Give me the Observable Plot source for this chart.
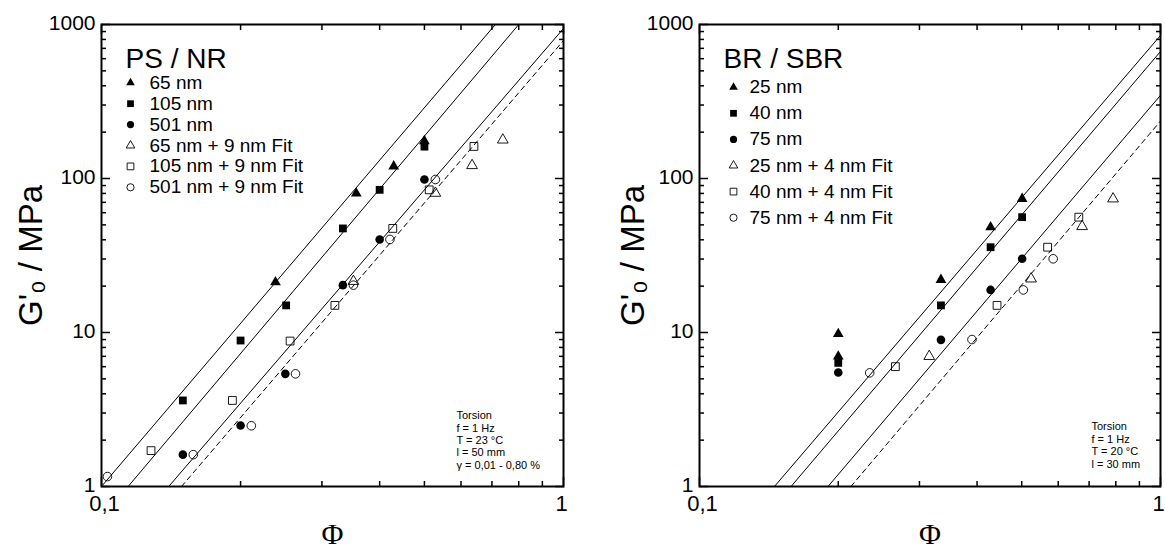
<!DOCTYPE html>
<html>
<head>
<meta charset="utf-8">
<script src="https://cdn.jsdelivr.net/npm/d3@7"></script>
<script src="https://cdn.jsdelivr.net/npm/@observablehq/plot@0.6"></script>
<style>
  body { margin: 0; background: #fff; }
  #wrap { display: flex; width: 1165px; height: 550px; background: #fff; }
  #wrap svg { display: block; }
</style>
</head>
<body>
<div id="wrap"></div>
<script>
// ---------- shared axis ticks ----------
const xMajor = [0.1, 1];
const xTickLabels = ["0,1", "1"];
const xMinor = [0.2, 0.3, 0.4, 0.5, 0.6, 0.7, 0.8, 0.9];
const yMajor = [1, 10, 100, 1000];
const yTickLabels = ["1", "10", "100", "1000"];
const yMinor = [2, 3, 4, 5, 6, 7, 8, 9, 20, 30, 40, 50, 60, 70, 80, 90, 200, 300, 400, 500, 600, 700, 800, 900];
const xLabel = "Φ";
const yLabel = "G'₀ / MPa";

// ---------- left panel: PS / NR ----------
const psTitle = "PS / NR";
const psNames = ["65 nm", "105 nm", "501 nm", "65 nm + 9 nm Fit", "105 nm + 9 nm Fit", "501 nm + 9 nm Fit"];
const psSymbols = ["triangle", "square", "circle", "triangle", "square", "circle"];
const psFilled = [true, true, true, false, false, false];
const psPhi65 = [0.238, 0.356, 0.429, 0.50];
const psG65 = [21.2, 80, 120, 175];
const psPhi105 = [0.15, 0.20, 0.251, 0.333, 0.40, 0.50];
const psG105 = [3.62, 8.87, 15.0, 47.4, 84.4, 161];
const psPhi501 = [0.15, 0.20, 0.25, 0.333, 0.40, 0.50];
const psG501 = [1.61, 2.49, 5.39, 20.3, 40.2, 98.5];
const psPhi65f = [0.351, 0.528, 0.634, 0.739];
const psG65f = [21.5, 80.3, 121.5, 178];
const psPhi105f = [0.128, 0.192, 0.256, 0.320, 0.427, 0.512, 0.640];
const psG105f = [1.71, 3.62, 8.8, 15.0, 47.4, 84.4, 161.5];
const psPhi501f = [0.103, 0.158, 0.211, 0.263, 0.351, 0.421, 0.528];
const psG501f = [1.16, 1.61, 2.48, 5.39, 20.3, 40.2, 98.5];
const psFitPhi = [[0.1, 0.712], [0.1142, 0.800], [0.1398, 1], [0.149, 1]];
const psFitG = [[1, 1000], [1, 1000], [1, 942], [1, 787]];
const psFitDashed = [false, false, false, true];
const psNote = ["Torsion", "f = 1 Hz", "T = 23 °C", "l = 50 mm", "γ = 0,01 - 0,80 %"];

// ---------- right panel: BR / SBR ----------
const brTitle = "BR / SBR";
const brNames = ["25 nm", "40 nm", "75 nm", "25 nm + 4 nm Fit", "40 nm + 4 nm Fit", "75 nm + 4 nm Fit"];
const brSymbols = ["triangle", "square", "circle", "triangle", "square", "circle"];
const brFilled = [true, true, true, false, false, false];
const brPhi25 = [0.2, 0.2, 0.334, 0.428, 0.501];
const brG25 = [9.8, 7.0, 22, 48.3, 73.8];
const brPhi40 = [0.2, 0.334, 0.428, 0.501];
const brG40 = [6.35, 15, 35.8, 56.1];
const brPhi75 = [0.2, 0.334, 0.428, 0.501];
const brG75 = [5.5, 8.96, 18.9, 30.1];
const brPhi25f = [0.315, 0.524, 0.676, 0.789];
const brG25f = [7.0, 22.3, 48.8, 73.8];
const brPhi40f = [0.266, 0.442, 0.569, 0.665];
const brG40f = [6.0, 15, 35.8, 56.1];
const brPhi75f = [0.234, 0.390, 0.504, 0.585];
const brG75f = [5.47, 9.0, 18.9, 30.1];
const brFitPhi = [[0.1454, 1], [0.158, 1], [0.190, 1], [0.213, 1]];
const brFitG = [[1, 849], [1, 668], [1, 347], [1, 236]];
const brFitDashed = [false, false, false, true];
const brNote = ["Torsion", "f = 1 Hz", "T = 20 °C", "l = 30 mm"];

const FONT = "'Liberation Sans', Arial, Helvetica, sans-serif";
const R = {triangle: 4, square: 4.4, circle: 4.3};
const RL = {triangle: 3.2, square: 3.8, circle: 3.6};

function panel(cfg) {
  const pts = cfg.names.flatMap((name, i) =>
    cfg.phi[i].map((p, j) => ({series: i, phi: p, g: cfg.g[i][j]})));
  const fits = cfg.fitPhi.flatMap((ph, i) =>
    ph.map((p, j) => ({fit: i, phi: p, g: cfg.fitG[i][j], dashed: cfg.fitDashed[i]})));

  const marks = [];
  marks.push(Plot.line(fits.filter(d => !d.dashed), {x: "phi", y: "g", z: "fit", stroke: "black", strokeWidth: 1, clip: true}));
  marks.push(Plot.line(fits.filter(d => d.dashed), {x: "phi", y: "g", z: "fit", stroke: "black", strokeWidth: 1, strokeDasharray: "5,4", clip: true}));

  cfg.names.forEach((name, i) => {
    const filled = cfg.filled[i];
    const sym = cfg.symbols[i];
    marks.push(Plot.dot(pts.filter(d => d.series === i), {
      x: "phi", y: "g", symbol: sym, r: R[sym],
      fill: filled ? "black" : "none", stroke: filled ? "none" : "black", strokeWidth: 0.9
    }));
    // legend entry
    marks.push(Plot.dot([name], {
      frameAnchor: "top-left", dx: cfg.legDx, dy: cfg.legDy + i * cfg.legSp,
      symbol: sym, r: RL[sym],
      fill: filled ? "black" : "none", stroke: filled ? "none" : "black", strokeWidth: 0.9
    }));
    marks.push(Plot.text([name], {
      frameAnchor: "top-left", dx: cfg.legTx, dy: cfg.legDy + i * cfg.legSp,
      text: d => d, textAnchor: "start", lineAnchor: "middle", fontSize: 19, fill: "black"
    }));
  });

  // title
  marks.push(Plot.text([cfg.title], {
    frameAnchor: "top-left", dx: cfg.titleDx, dy: cfg.titleDy, text: d => d,
    textAnchor: "start", lineAnchor: "bottom", fontSize: 28, fill: "black"
  }));
  // note
  marks.push(Plot.text([cfg.note.join("\n")], {
    frameAnchor: "top-left", dx: cfg.noteDx, dy: cfg.noteDy, text: d => d,
    textAnchor: "start", lineAnchor: "top", fontSize: 11, lineHeight: cfg.noteLH, fill: "black"
  }));

  // axis ticks (inward, all four sides)
  for (const anchor of ["bottom", "top"]) {
    marks.push(Plot.axisX({ticks: xMajor, anchor, tickSize: -9, fill: "none", label: null, strokeWidth: 1.5}));
    marks.push(Plot.axisX({ticks: xMinor, anchor, tickSize: -5, fill: "none", label: null, strokeWidth: 1.5}));
  }
  for (const anchor of ["left", "right"]) {
    marks.push(Plot.axisY({ticks: yMajor, anchor, tickSize: -9, fill: "none", label: null, strokeWidth: 1.5}));
    marks.push(Plot.axisY({ticks: yMinor, anchor, tickSize: -5, fill: "none", label: null, strokeWidth: 1.5}));
  }
  // tick labels
  marks.push(Plot.axisX({ticks: xMajor.slice(0, 1), anchor: "bottom", tickSize: 0, tickPadding: 9, fontSize: 22, dx: 3, label: null,
    tickFormat: d => xTickLabels[xMajor.indexOf(d)]}));
  marks.push(Plot.axisX({ticks: xMajor.slice(1), anchor: "bottom", tickSize: 0, tickPadding: 9, fontSize: 22, dx: -2, label: null,
    tickFormat: d => xTickLabels[xMajor.indexOf(d)]}));
  marks.push(Plot.axisY({ticks: yMajor, anchor: "left", tickSize: 0, tickPadding: 6, fontSize: 21, dy: -1.5, label: null,
    tickFormat: d => yTickLabels[yMajor.indexOf(d)]}));

  // axis titles
  marks.push(Plot.text([xLabel], {
    frameAnchor: "bottom", dy: 48, text: d => d, textAnchor: "middle", lineAnchor: "middle",
    fontSize: 30, fontFamily: "'Liberation Serif', 'Times New Roman', serif", fill: "black"
  }));
  marks.push(Plot.text([yLabel], {
    frameAnchor: "left", dx: cfg.yLabDx, text: d => d, rotate: -90, textAnchor: "middle", lineAnchor: "middle",
    fontSize: 33, fill: "black"
  }));

  marks.push(Plot.frame({stroke: "black", strokeWidth: 2}));

  return Plot.plot({
    width: cfg.width, height: 550,
    marginLeft: cfg.marginLeft, marginRight: cfg.marginRight, marginTop: 24, marginBottom: 64,
    x: {type: "log", domain: [0.1, 1]},
    y: {type: "log", domain: [1, 1000]},
    style: {fontFamily: FONT, color: "black", background: "white", overflow: "visible"},
    marks
  });
}

const left = panel({
  width: 582, marginLeft: 101, marginRight: 19,
  title: psTitle, names: psNames, symbols: psSymbols, filled: psFilled,
  phi: [psPhi65, psPhi105, psPhi501, psPhi65f, psPhi105f, psPhi501f],
  g: [psG65, psG105, psG501, psG65f, psG105f, psG501f],
  fitPhi: psFitPhi, fitG: psFitG, fitDashed: psFitDashed,
  note: psNote, noteDx: 355, noteDy: 386, noteLH: 1.12,
  titleDx: 24, titleDy: 43,
  legDx: 29, legTx: 48, legDy: 58.3, legSp: 20.9,
  yLabDx: -70
});
const right = panel({
  width: 583, marginLeft: 117, marginRight: 5,
  title: brTitle, names: brNames, symbols: brSymbols, filled: brFilled,
  phi: [brPhi25, brPhi40, brPhi75, brPhi25f, brPhi40f, brPhi75f],
  g: [brG25, brG40, brG75, brG25f, brG40f, brG75f],
  fitPhi: brFitPhi, fitG: brFitG, fitDashed: brFitDashed,
  note: brNote, noteDx: 392, noteDy: 396, noteLH: 1.17,
  titleDx: 24, titleDy: 43,
  legDx: 34, legTx: 50, legDy: 62.7, legSp: 26.1,
  yLabDx: -66
});
document.getElementById("wrap").append(left, right);
</script>
</body>
</html>
